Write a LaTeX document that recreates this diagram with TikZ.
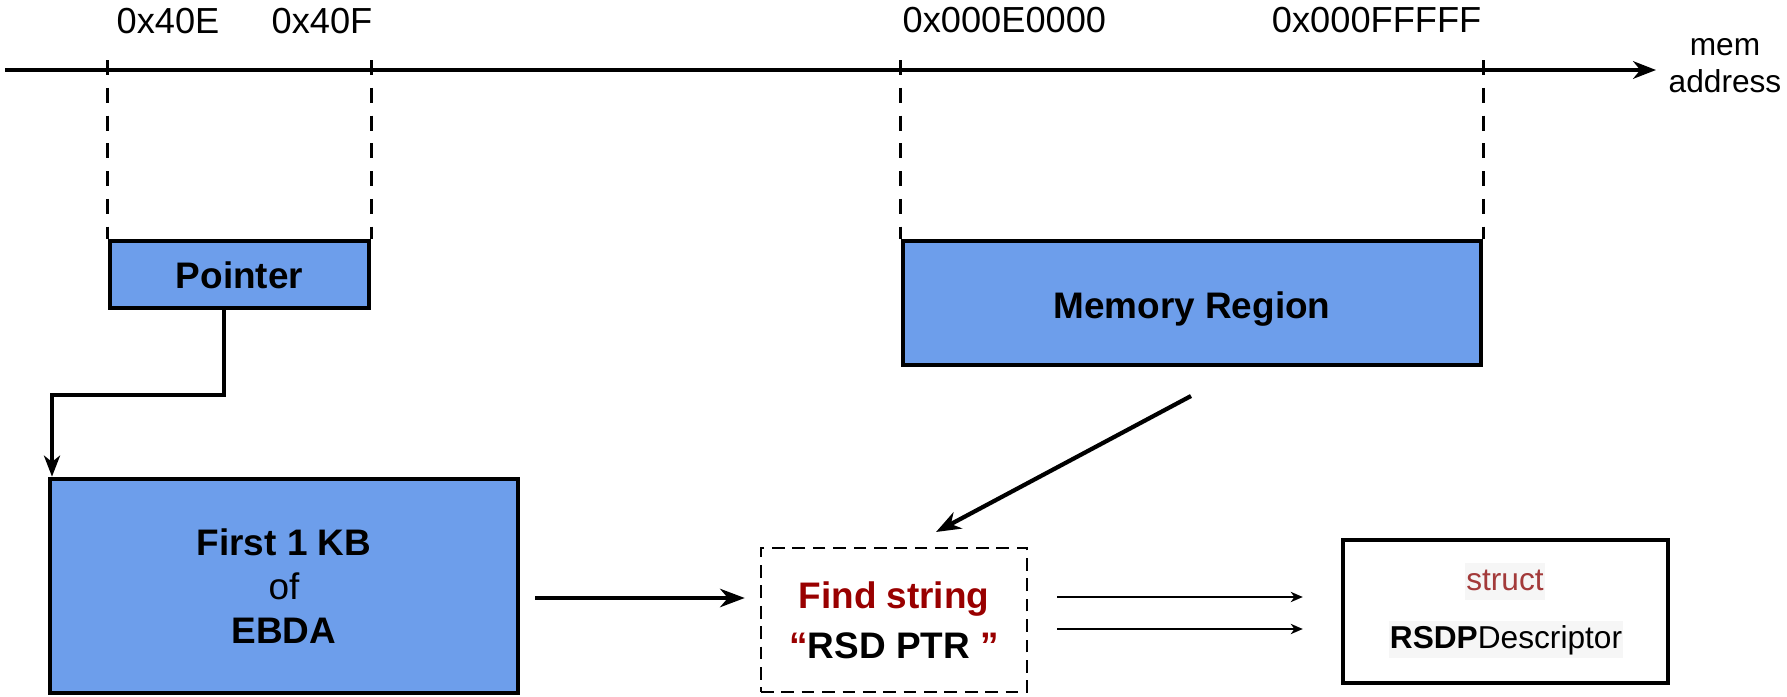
\documentclass[tikz,border=0pt]{standalone}
\usepackage{fontspec}
\setmainfont{Liberation Sans}
\usetikzlibrary{arrows.meta,calc}
\definecolor{boxblue}{HTML}{6D9EEB}
\definecolor{findred}{HTML}{990000}
\definecolor{structred}{HTML}{A33A3A}
\definecolor{codebg}{HTML}{F6F6F6}
\begin{document}
\begin{tikzpicture}[x=0.01cm,y=-0.01cm,
  lbl/.style={font=\fontsize{10.3}{12}\selectfont, inner sep=0pt},
  smalllbl/.style={font=\fontsize{9}{10.5}\selectfont, inner sep=0pt},
  membox/.style={draw, line width=1.3pt, fill=boxblue, inner sep=0pt, align=center,
    font=\fontsize{10.5}{12.5}\selectfont\bfseries},
  findbox/.style={draw, line width=0.65pt, dash pattern=on 3.6pt off 2.2pt, inner sep=0pt, align=center,
    font=\fontsize{10.5}{14.2}\selectfont\bfseries},
  structbox/.style={draw, line width=1.2pt, inner sep=0pt},
  codetxt/.style={fill=codebg, inner xsep=0.4pt, inner ysep=0pt, text height=7.6pt, text depth=2.9pt,
    font=\fontsize{9}{11}\selectfont},
  axisline/.style={line width=1pt, -{Stealth[length=6.5pt,width=5pt,inset=2pt]}},
  guide/.style={line width=0.75pt, dash pattern=on 4.3pt off 3.6pt},
  thickarrow/.style={line width=1.2pt, -{Stealth[length=7pt,width=5.2pt,inset=2.2pt]}},
  thinarrow/.style={line width=0.6pt, -{Stealth[length=3.4pt,width=2.9pt,inset=1pt]}},
  linkarrow/.style={line width=0.9pt, -{Stealth[length=6pt,width=4.6pt,inset=1.8pt]}}
]
\useasboundingbox (0,0) rectangle (1787,697);

% axis
\coordinate (ax0) at (5,70);
\coordinate (ax1) at (1656,70);
\draw[axisline] (ax0) -- (ax1);
\node[smalllbl, anchor=base] (memlbl) at (1725,55) {mem};
\node[smalllbl, anchor=base] (addrlbl) at (1725,92.5) {address};

% boxes
\node[membox, minimum width=2.59cm, minimum height=0.67cm, text height=8.2pt] (Pointer) at (239.5,274.5) {Pointer};
\node[membox, minimum width=5.78cm, minimum height=1.24cm, text height=11pt] (Memory) at (1192,303) {Memory Region};
\node[membox, minimum width=4.68cm, minimum height=2.14cm] (EBDA) at (284,586)
  {First 1 KB\\{\mdseries of}\\EBDA};
\node[findbox, minimum width=2.66cm, minimum height=1.44cm] (Find) at (894,620)
  {\textcolor{findred}{Find string}\\\textcolor{findred}{“}RSD PTR \textcolor{findred}{”}};
\node[structbox, minimum width=3.25cm, minimum height=1.43cm] (Struct) at (1505.5,611.5) {};
\node[codetxt, text=structred, anchor=base] (kw) at (1505,590) {struct};
\node[codetxt, anchor=base] (sname) at (1506,648) {\textbf{RSDP}Descriptor};

% address labels
\node[lbl, anchor=base west] (l1) at (116,34) {0x40E};
\node[lbl, anchor=base east] (l2) at (373,34) {0x40F};
\node[lbl, anchor=base west] (l3) at (902,32) {0x000E0000};
\node[lbl, anchor=base east] (l4) at (1482,32) {0x000FFFFF};

% guide lines
\draw[guide] ($(Pointer.north west |- ax0)+(0,-10)$) -- (Pointer.north west);
\draw[guide] ($(Pointer.north east |- ax0)+(0,-10)$) -- (Pointer.north east);
\draw[guide] ($(Memory.north west |- ax0)+(0,-10)$) -- (Memory.north west);
\draw[guide] ($(Memory.north east |- ax0)+(0,-10)$) -- (Memory.north east);

% pointer -> EBDA
\coordinate (c1) at (224,395);
\coordinate (c2) at (52,395);
\draw[linkarrow] (Pointer.south -| c1) -- (c1) -- (c2) -- (EBDA.north -| c2);

% EBDA -> Find
\draw[thickarrow] ($(EBDA.east)+(15,12)$) -- ($(Find.west)+(-15,-22)$);

% Memory -> Find
\coordinate (d1) at (1191,396);
\coordinate (d2) at (936,532);
\draw[thickarrow] (d1) -- (d2);

% Find -> Struct
\draw[thinarrow] ($(Find.east)+(29,-23)$) -- ($(Struct.west)+(-38,-14.5)$);
\draw[thinarrow] ($(Find.east)+(29,9)$) -- ($(Struct.west)+(-38,17.5)$);
\end{tikzpicture}
\end{document}
